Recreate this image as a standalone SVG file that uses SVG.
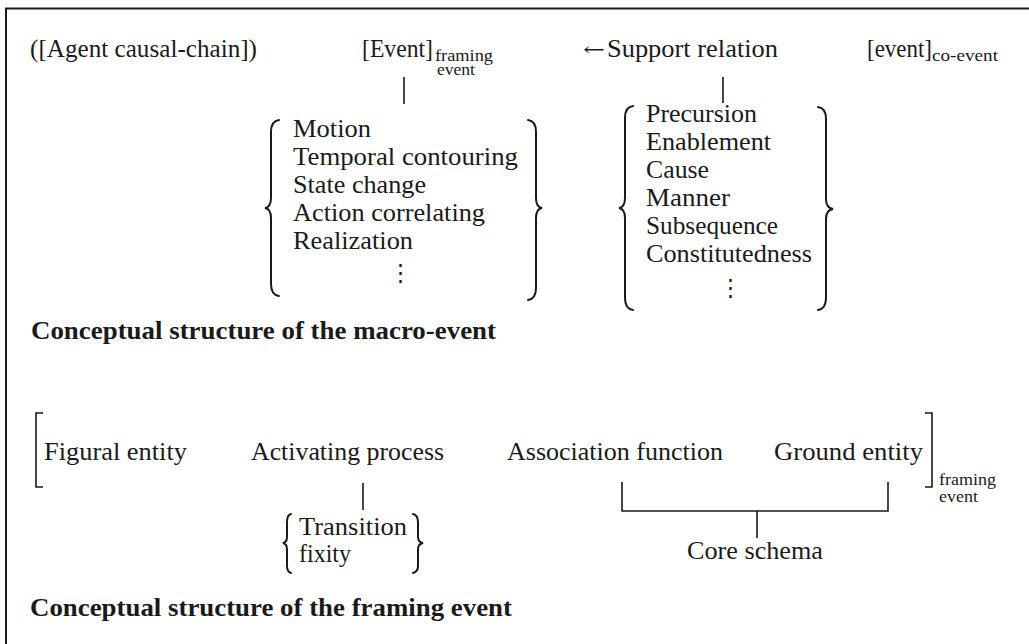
<svg xmlns="http://www.w3.org/2000/svg" width="1029" height="644" viewBox="0 0 1029 644">
  <style>
    text { font-family: "Liberation Serif", "DejaVu Serif", serif; font-size: 25px; fill: #1a1a1a; }
    .sub { font-size: 17.5px; }
    .head { font-weight: bold; font-size: 25.5px; }
    .arrow { font-family: "DejaVu Serif", "Liberation Serif", serif; font-size: 20px; }
    .dots { font-family: "DejaVu Serif", "Liberation Serif", serif; font-size: 23px; }
    .line { stroke: #1a1a1a; stroke-width: 1.6; fill: none; }
    .brace { stroke: #1a1a1a; stroke-width: 2; fill: none; stroke-linecap: round; }
  </style>
  <rect width="1029" height="644" fill="#ffffff"/>
  <!-- frame: only the top and left edges fall inside the page -->
  <path d="M6,644 V8.5 H1029" stroke="#1a1a1a" stroke-width="2" fill="none"/>

  <!-- connectors -->
  <g id="connectors">
    <line class="line" x1="404" y1="77" x2="404" y2="104"/>
    <line class="line" x1="723" y1="77" x2="723" y2="103"/>
    <line class="line" x1="363" y1="483" x2="363" y2="510"/>
    <path class="line" d="M622,482 V511 H888 V482"/>
    <line class="line" x1="757" y1="511" x2="757" y2="538"/>
  </g>

  <!-- macro-event row -->
  <g id="agent-chain">
    <text x="30" y="57" textLength="227" lengthAdjust="spacingAndGlyphs">([Agent causal-chain])</text>
  </g>
  <g id="framing-event">
    <text x="362" y="57" textLength="71" lengthAdjust="spacingAndGlyphs">[Event]</text>
    <text class="sub" x="435" y="61" textLength="58" lengthAdjust="spacingAndGlyphs">framing</text>
    <text class="sub" x="437" y="75" textLength="38" lengthAdjust="spacingAndGlyphs">event</text>
  </g>
  <g id="support-relation">
    <text class="arrow" x="583" y="56" textLength="22" lengthAdjust="spacingAndGlyphs">←</text>
    <text x="607" y="57" textLength="171" lengthAdjust="spacingAndGlyphs">Support relation</text>
  </g>
  <g id="co-event">
    <text x="867" y="57" textLength="65" lengthAdjust="spacingAndGlyphs">[event]</text>
    <text class="sub" x="932" y="61" textLength="66" lengthAdjust="spacingAndGlyphs">co-event</text>
  </g>

  <!-- framing event types -->
  <g id="framing-types">
    <path class="brace" d="M279,120 Q271,121 271,132 V198 Q271,207 265,208 Q271,209 271,218 V284 Q271,295 279,296"/>
    <text x="293" y="137" textLength="78" lengthAdjust="spacingAndGlyphs">Motion</text>
    <text x="293" y="165" textLength="225" lengthAdjust="spacingAndGlyphs">Temporal contouring</text>
    <text x="293" y="193" textLength="133" lengthAdjust="spacingAndGlyphs">State change</text>
    <text x="293" y="221" textLength="192" lengthAdjust="spacingAndGlyphs">Action correlating</text>
    <text x="293" y="249" textLength="120" lengthAdjust="spacingAndGlyphs">Realization</text>
    <text class="dots" x="400" y="280" text-anchor="middle">⋮</text>
    <path class="brace" d="M528,120 Q536,121 536,132 V198 Q536,207 542,208 Q536,209 536,218 V288 Q536,299 528,300"/>
  </g>

  <!-- support relation types -->
  <g id="support-types">
    <path class="brace" d="M633,106 Q625,107 625,118 V198 Q625,207 619,208 Q625,209 625,218 V298 Q625,309 633,310"/>
    <text x="646" y="122" textLength="111" lengthAdjust="spacingAndGlyphs">Precursion</text>
    <text x="646" y="150" textLength="125" lengthAdjust="spacingAndGlyphs">Enablement</text>
    <text x="646" y="178" textLength="63" lengthAdjust="spacingAndGlyphs">Cause</text>
    <text x="646" y="206" textLength="84" lengthAdjust="spacingAndGlyphs">Manner</text>
    <text x="646" y="234" textLength="132" lengthAdjust="spacingAndGlyphs">Subsequence</text>
    <text x="646" y="262" textLength="166" lengthAdjust="spacingAndGlyphs">Constitutedness</text>
    <text class="dots" x="730" y="295" text-anchor="middle">⋮</text>
    <path class="brace" d="M818,107 Q826,108 826,119 V199 Q826,208 833,209 Q826,210 826,219 V298 Q826,309 818,310"/>
  </g>

  <g id="heading-macro">
    <text class="head" x="31" y="339" textLength="465" lengthAdjust="spacingAndGlyphs">Conceptual structure of the macro-event</text>
  </g>

  <!-- framing event row -->
  <g id="framing-bracket-left">
    <path class="line" d="M43,413 H36 V487 H43"/>
  </g>
  <g id="figural-entity">
    <text x="44" y="460" textLength="143" lengthAdjust="spacingAndGlyphs">Figural entity</text>
  </g>
  <g id="activating-process">
    <text x="251" y="460" textLength="193" lengthAdjust="spacingAndGlyphs">Activating process</text>
  </g>
  <g id="association-function">
    <text x="507" y="460" textLength="216" lengthAdjust="spacingAndGlyphs">Association function</text>
  </g>
  <g id="ground-entity">
    <text x="774" y="460" textLength="149" lengthAdjust="spacingAndGlyphs">Ground entity</text>
  </g>
  <g id="framing-bracket-right">
    <path class="line" d="M925,413 H932 V487 H925"/>
    <text class="sub" x="939" y="485" textLength="57" lengthAdjust="spacingAndGlyphs">framing</text>
    <text class="sub" x="939" y="502" textLength="39" lengthAdjust="spacingAndGlyphs">event</text>
  </g>

  <g id="activating-values">
    <path class="brace" d="M291,514 Q287,515 287,522 V537 Q287,542 283,543 Q287,544 287,549 V566 Q287,572 291,573"/>
    <text x="299" y="535" textLength="108" lengthAdjust="spacingAndGlyphs">Transition</text>
    <text x="299" y="562" textLength="52" lengthAdjust="spacingAndGlyphs">fixity</text>
    <path class="brace" d="M413,514 Q418,515 418,522 V537 Q418,542 423,543 Q418,544 418,549 V566 Q418,572 413,573"/>
  </g>

  <g id="core-schema">
    <text x="687" y="559" textLength="136" lengthAdjust="spacingAndGlyphs">Core schema</text>
  </g>

  <g id="heading-framing">
    <text class="head" x="30" y="616" textLength="482" lengthAdjust="spacingAndGlyphs">Conceptual structure of the framing event</text>
  </g>
</svg>
